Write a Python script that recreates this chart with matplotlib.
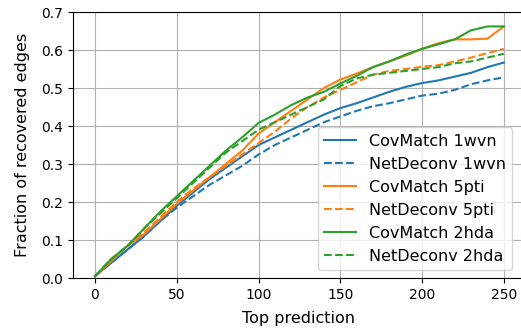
import numpy as np
import matplotlib
matplotlib.use("Agg")
import matplotlib.pyplot as plt

# top-k positions
top_k = [0, 10, 20, 30, 40, 50, 60, 70, 80, 90, 100, 110, 120, 130,
         140, 150, 160, 170, 180, 190, 200, 210, 220, 230, 240, 250]

covmatch_1wvn = [0.005, 0.04, 0.075, 0.11, 0.15, 0.19, 0.225, 0.26, 0.29, 0.32,
                 0.35, 0.37, 0.39, 0.41, 0.43, 0.447, 0.46, 0.475, 0.49, 0.503,
                 0.513, 0.52, 0.53, 0.54, 0.555, 0.567]
netdeconv_1wvn = [0.005, 0.04, 0.075, 0.11, 0.15, 0.185, 0.215, 0.245, 0.27, 0.295,
                  0.325, 0.35, 0.37, 0.39, 0.41, 0.425, 0.44, 0.452, 0.46, 0.47,
                  0.48, 0.485, 0.495, 0.51, 0.52, 0.528]
covmatch_5pti = [0.005, 0.045, 0.085, 0.115, 0.155, 0.195, 0.23, 0.265, 0.3, 0.335,
                 0.38, 0.41, 0.44, 0.47, 0.5, 0.522, 0.538, 0.555, 0.57, 0.585,
                 0.603, 0.618, 0.628, 0.628, 0.63, 0.662]
netdeconv_5pti = [0.005, 0.045, 0.085, 0.12, 0.16, 0.2, 0.235, 0.265, 0.295, 0.325,
                  0.355, 0.385, 0.42, 0.45, 0.475, 0.495, 0.515, 0.535, 0.545, 0.55,
                  0.556, 0.56, 0.57, 0.58, 0.592, 0.603]
covmatch_2hda = [0.005, 0.05, 0.085, 0.13, 0.175, 0.215, 0.255, 0.295, 0.335, 0.37,
                 0.408, 0.43, 0.455, 0.475, 0.49, 0.512, 0.532, 0.555, 0.57, 0.588,
                 0.603, 0.615, 0.628, 0.652, 0.662, 0.662]
netdeconv_2hda = [0.005, 0.05, 0.085, 0.13, 0.17, 0.21, 0.25, 0.29, 0.33, 0.36,
                  0.39, 0.41, 0.43, 0.45, 0.47, 0.505, 0.525, 0.535, 0.54, 0.545,
                  0.55, 0.555, 0.565, 0.57, 0.58, 0.59]

fig = plt.figure(figsize=(5.21, 3.35), dpi=100)
W, H = 521, 335
ax = fig.add_axes([73 / W, (H - 278) / H, (523.5 - 73) / W, (278 - 12) / H])

ax.plot(top_k, covmatch_1wvn, color="C0", ls="-", label="CovMatch 1wvn")
ax.plot(top_k, netdeconv_1wvn, color="C0", ls="--", label="NetDeconv 1wvn")
ax.plot(top_k, covmatch_5pti, color="C1", ls="-", label="CovMatch 5pti")
ax.plot(top_k, netdeconv_5pti, color="C1", ls="--", label="NetDeconv 5pti")
ax.plot(top_k, covmatch_2hda, color="C2", ls="-", label="CovMatch 2hda")
ax.plot(top_k, netdeconv_2hda, color="C2", ls="--", label="NetDeconv 2hda")

ax.set_xlim(-13.4, 262)
ax.set_ylim(0, 0.7)
ax.set_xticks([0, 50, 100, 150, 200, 250])
ax.grid(True)
ax.set_xlabel("Top prediction", fontsize=11.5, labelpad=6.5)
ax.set_ylabel("Fraction of recovered edges", fontsize=11.5, labelpad=8)
ax.legend(loc="lower right", bbox_to_anchor=(520 / W, (H - 278) / H),
          bbox_transform=fig.transFigure, fontsize=11.5)

fig.savefig("out.png", dpi=100)
